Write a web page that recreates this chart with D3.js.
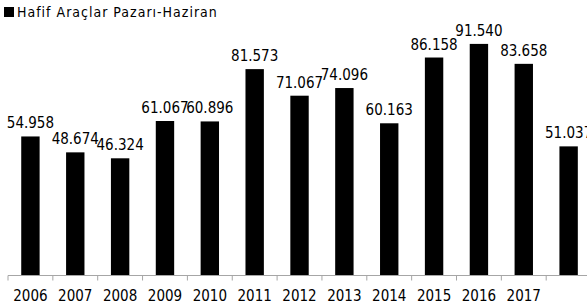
<!DOCTYPE html>
<html>
<head>
<meta charset="utf-8">
<script src="https://cdn.jsdelivr.net/npm/d3@7/dist/d3.min.js"></script>
<style>
html,body{margin:0;padding:0;background:#fff;}
svg{display:block;}
text{font-family:"DejaVu Sans Condensed","DejaVu Sans",sans-serif;font-stretch:condensed;}
</style>
</head>
<body>
<svg id="chart" width="587" height="306"></svg>
<script>
const categories = ["2006","2007","2008","2009","2010","2011","2012","2013","2014","2015","2016","2017",""];
const values = [54.958,48.674,46.324,61.067,60.896,81.573,71.067,74.096,60.163,86.158,91.540,83.658,51.037];
const labels = ["54.958","48.674","46.324","61.067","60.896","81.573","71.067","74.096","60.163","86.158","91.540","83.658","51.037"];
const seriesName = "Hafif Araçlar Pazarı-Haziran";
const yDomain = [0,100];

const svg = d3.select("#chart");
const x = d3.scaleBand().domain(categories.map((c,i)=>i)).range([8,591.05]).paddingInner(0.59).paddingOuter(0.295);
const y = d3.scaleLinear().domain(yDomain).range([275.5,22.5]);

// bars
svg.append("g").selectAll("rect").data(values).join("rect")
  .attr("x",(d,i)=>x(i)).attr("width",x.bandwidth())
  .attr("y",d=>y(d)).attr("height",d=>y(0)-y(d))
  .attr("fill","#000");

// value labels
svg.append("g").selectAll("text").data(values).join("text")
  .attr("x",(d,i)=>x(i)+x.bandwidth()/2)
  .attr("y",d=>y(d)-8)
  .attr("text-anchor","middle")
  .attr("font-size","15px")
  .attr("fill","#000")
  .text((d,i)=>labels[i]);

// x axis
const xb = d3.scaleBand().domain(categories.map((c,i)=>i)).range([8,591.05]);
const axis = svg.append("g").attr("transform",`translate(0,${y(0)})`);
axis.append("line").attr("x1",8).attr("x2",591).attr("y1",0).attr("y2",0).attr("stroke","#a6a6a6").attr("stroke-width",1);
axis.selectAll("line.tick").data(d3.range(categories.length+1)).join("line")
  .attr("class","tick")
  .attr("x1",i=>8+i*xb.step()).attr("x2",i=>8+i*xb.step())
  .attr("y1",0).attr("y2",5).attr("stroke","#a6a6a6");
axis.selectAll("text").data(categories).join("text")
  .attr("x",(d,i)=>xb(i)+xb.bandwidth()/2)
  .attr("y",25.5)
  .attr("text-anchor","middle")
  .attr("font-size","15px")
  .attr("fill","#000")
  .text(d=>d);

// legend
const lg = svg.append("g");
lg.append("rect").attr("x",4).attr("y",7).attr("width",10).attr("height",10).attr("fill","#000");
lg.append("text").attr("x",17).attr("y",17).attr("font-size","14px").attr("letter-spacing","1px").attr("fill","#000").text(seriesName);
</script>
</body>
</html>
